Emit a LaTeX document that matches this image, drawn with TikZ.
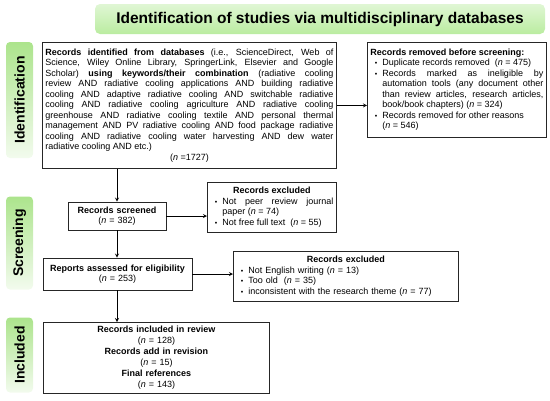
\documentclass[tikz,border=0pt]{standalone}
\usepackage{fontspec}
\setmainfont{Liberation Sans}
\usepackage{enumitem}
\definecolor{stagegreen}{RGB}{172,228,140}
\definecolor{titlegreen}{RGB}{186,236,160}
\newcommand{\nval}[1]{(\textit{n} = #1)}
\setlist[itemize]{label={\scriptsize\textbullet},leftmargin=12pt,labelsep=5pt,itemsep=0pt,topsep=0pt,parsep=0pt,partopsep=0pt}

\begin{document}
\begin{tikzpicture}[x=1pt,y=-1pt,>=stealth]
    % styles
    \tikzset{
        stage/.style={rotate=90,rounded corners=4pt,top color=stagegreen,bottom color=white!85!stagegreen,
            minimum height=27pt,inner sep=0pt,font=\fontsize{14}{16}\selectfont\bfseries},
        box/.style={draw=black!85,line width=0.8pt,inner sep=3pt,font=\fontsize{9}{10.5}\selectfont},
        flow/.style={->,line width=0.8pt}
    }
    \useasboundingbox (0,0) rectangle (550,400);

    % title
    \node[rounded corners=5pt,top color=white!55!titlegreen,bottom color=titlegreen,
          minimum width=450pt,minimum height=30pt,font=\fontsize{15.5}{17}\selectfont\bfseries]
          (title) at (320,19) {Identification of studies via multidisciplinary databases};

    % stage labels
    \node[stage,minimum width=116pt] (identlab)  at (19.5,100) {Identification};
    \node[stage,minimum width=93pt]  (screenlab) at (19.5,243) {Screening};
    \node[stage,minimum width=75pt]  (inclab)    at (19.5,355) {Included};

    % boxes
    \node[box,anchor=north west,text width=288pt,minimum height=126pt,align=justify] (ident) at (42,42)
        {\textbf{Records identified from databases} (i.e., ScienceDirect, Web of\linebreak
         Science, Wiley Online Library, SpringerLink, Elsevier and Google\linebreak
         Scholar) \textbf{using keywords/their combination} (radiative cooling\linebreak
         review AND radiative cooling applications AND building radiative\linebreak
         cooling AND adaptive radiative cooling AND switchable radiative\linebreak
         cooling AND radiative cooling agriculture AND radiative cooling\linebreak
         greenhouse AND radiative cooling textile AND personal thermal\linebreak
         management AND PV radiative cooling AND food package radiative\linebreak
         cooling AND radiative cooling water harvesting AND dew water\linebreak
         radiative cooling AND etc.)\par
         {\centering (\textit{n} =1727)\par}};

    \node[box,anchor=north west,text width=173pt,minimum height=95pt,align=justify] (removed) at (367,42)
        {\textbf{Records removed before screening:}
         \begin{itemize}
         \item Duplicate records removed\ \ \nval{475}
         \item Records marked as ineligible by\linebreak automation tools (any document other\linebreak
               than review articles, research articles,\linebreak book/book chapters) \nval{324}
         \item Records removed for other reasons\newline \nval{546}
         \end{itemize}};

    \node[box,text width=92pt,minimum height=28pt,align=center] (screened) at (117,216)
        {\textbf{Records screened}\\ (\textit{n} = 382)};

    \node[box,anchor=north west,text width=123pt,minimum height=50pt,align=justify] (excl1) at (207,182)
        {{\centering\textbf{Records excluded}\par}
         \begin{itemize}
         \item Not peer review journal\linebreak paper \nval{74}
         \item Not free full text\ \ \nval{55}
         \end{itemize}};

    \node[box,text width=143pt,minimum height=32pt,align=center] (reports) at (117.5,274)
        {\textbf{Reports assessed for eligibility}\\ (\textit{n} = 253)};

    \node[box,anchor=north west,text width=219pt,minimum height=50pt,align=left] (excl2) at (233,251)
        {{\centering\textbf{Records excluded}\par}
         \begin{itemize}
         \item Not English writing \nval{13}
         \item Too old\ \ \nval{35}
         \item inconsistent with the research theme \nval{77}
         \end{itemize}};

    \node[box,anchor=north west,text width=220pt,minimum height=71pt,align=center,font=\fontsize{9}{10.9}\selectfont] (included) at (43,322)
        {\textbf{Records included in review}\\ \nval{128}\\
         \textbf{Records add in revision}\\ \nval{15}\\
         \textbf{Final references}\\ \nval{143}};

    % connectors
    \draw[flow] (ident.south -| screened.north) -- (screened.north);
    \draw[flow] (ident.east) -- (ident.east -| removed.west);
    \draw[flow] (screened.south) -- (reports.north -| screened.south);
    \draw[flow] (screened.east) -- (screened.east -| excl1.west);
    \draw[flow] (reports.east) -- (reports.east -| excl2.west);
    \draw[flow] (reports.south -| screened.south) -- (included.north -| screened.south);
\end{tikzpicture}
\end{document}
